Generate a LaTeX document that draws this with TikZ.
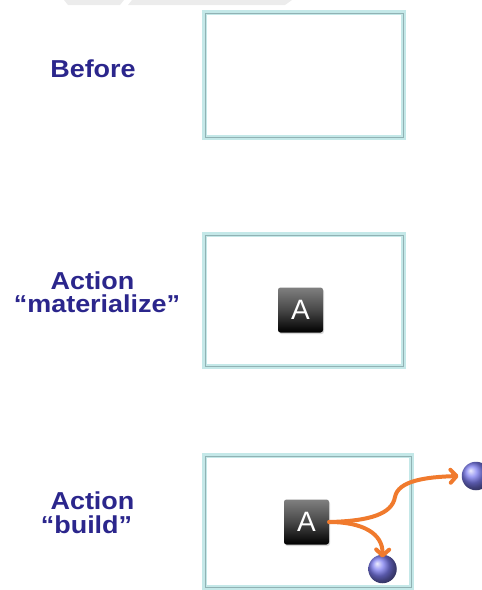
\documentclass[tikz,border=0pt]{standalone}
\usepackage{fontspec}
\setmainfont{Liberation Sans}
\newfontfamily\lblfont{Liberation Sans}[FakeStretch=1.1]
\usetikzlibrary{arrows.meta,shadows}

\definecolor{navy}{RGB}{43,38,140}
\definecolor{framecyan}{RGB}{196,232,232}
\definecolor{frameline}{RGB}{145,178,180}
\definecolor{flowor}{RGB}{240,122,45}
\definecolor{ballblue}{RGB}{125,125,240}
\definecolor{haze}{RGB}{236,236,236}

\tikzset{
  panel/.style={draw=framecyan, line width=5pt, fill=white,
    drop shadow={shadow xshift=1.2pt, shadow yshift=-2.2pt, opacity=0.35, fill=black!55},
    inner sep=0pt},
  innerline/.style={draw=frameline, line width=1pt},
  label/.style={text=navy, font=\lblfont\bfseries\fontsize{24.5}{24}\selectfont, anchor=base, inner sep=0pt},
  keybox/.style={minimum size=45pt, inner sep=0pt, rounded corners=2.5pt,
    top color=black!50, bottom color=black, middle color=black!72,
    text=white, font=\fontsize{28}{28}\selectfont,
    drop shadow={shadow xshift=1pt, shadow yshift=-1.5pt, opacity=0.3}},
  ball/.style={circle, minimum size=28.5pt, inner sep=0pt, shading=ball, ball color=ballblue},
  flow/.style={draw=flowor, line width=4pt, line cap=round,
    -{Straight Barb[length=6pt, width=13pt, line cap=round, line join=round]}}
}

\begin{document}
\begin{tikzpicture}[x=1pt, y=-1pt]
\useasboundingbox (0,0) rectangle (482,590);
\begin{scope}
\clip (0,0) rectangle (482,590);

% faint band along the top edge
\fill[haze] (64,0) -- (124,0) -- (120,5) -- (68,5) -- cycle;
\fill[haze] (132,0) -- (292,0) -- (285,5) -- (128,5) -- cycle;

% the three panels
\node[panel, minimum width=199pt, minimum height=125pt] (p1) at (304,75) {};
\node[panel, minimum width=199pt, minimum height=132pt] (p2) at (304,300.5) {};
\node[panel, minimum width=207pt, minimum height=132pt] (p3) at (308,521.5) {};
\foreach \p in {p1,p2,p3}
  \draw[innerline] ([shift={(3,3)}]\p.north west) rectangle ([shift={(-3,-3)}]\p.south east);

% row labels
\node[label] (t1) at (93,77) {Before};
\node[label] (t2) at (92.5,289) {Action};
\node[label] (t3) at (97,312.5) {“materialize”};
\node[label] (t4) at (92.5,509) {Action};
\node[label] (t5) at (86.5,533) {“build”};

% materialized object
\node[keybox] (a2) at (300.5,310) {A};

% build: object with two produced items
\node[keybox] (a3) at (306.5,522) {A};
\node[ball] (b1) at (476,476) {};
\node[ball] (b2) at (382.5,569) {};
\coordinate (bend) at (395,497);

\draw[flow] (a3.east) .. controls (370,521) and (392,514) .. (bend)
  .. controls (398,481) and (425,477) .. ([xshift=-3pt]b1.west);
\draw[flow] (a3.east) .. controls (362,522) and (383,533) .. ([yshift=-3pt]b2.north);
\end{scope}
\end{tikzpicture}
\end{document}
